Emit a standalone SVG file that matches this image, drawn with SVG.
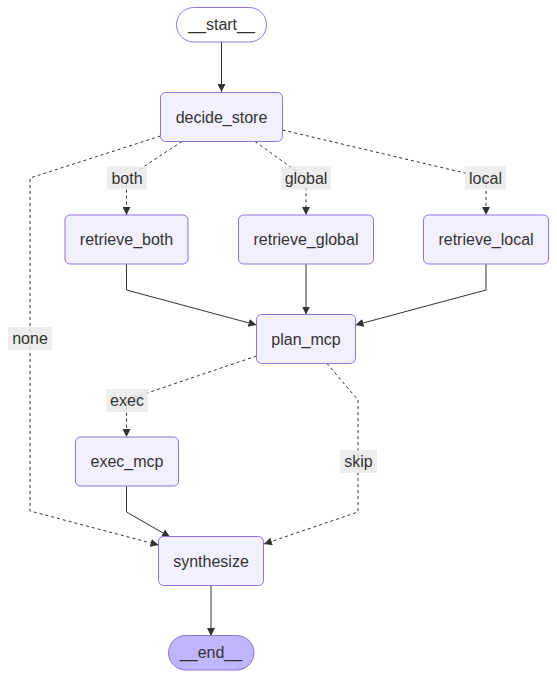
<svg xmlns="http://www.w3.org/2000/svg" width="557" height="678" viewBox="0 0 557 678">
<style>
.node rect{fill:#f2f0ff;stroke:#9370DB;stroke-width:1}
.node.first rect{fill:#ffffff}
.node.last rect{fill:#bfb6fc}
text{font-family:"Liberation Sans",Arial,sans-serif;font-size:16px;fill:#333;text-anchor:middle;dominant-baseline:central}
.e{fill:none;stroke:#333;stroke-width:1}
.d{stroke-dasharray:3 3}
.lbl rect{fill:#e8e8e8;fill-opacity:0.8;stroke:none}
</style>
<defs>
<marker id="ah" viewBox="0 0 10 10" refX="10" refY="5" markerWidth="8" markerHeight="8" markerUnits="userSpaceOnUse" orient="auto">
<path d="M0,0 L10,5 L0,10 z" fill="#333"/>
</marker>
</defs>
<g id="edges">
<path class="e" d="M221.5,42 L221.5,92" marker-end="url(#ah)"/>
<path class="e d" d="M182,141.5 L126.5,178 L126.5,215" marker-end="url(#ah)"/>
<path class="e d" d="M255,141.5 L306,178 L306,215" marker-end="url(#ah)"/>
<path class="e d" d="M282.5,130 L486,178 L486,215" marker-end="url(#ah)"/>
<path class="e d" d="M160.5,136 L30,178 L30,511 L158.5,545" marker-end="url(#ah)"/>
<path class="e" d="M126.5,264 L126.5,290 L256.5,325" marker-end="url(#ah)"/>
<path class="e" d="M306,264 L306,314.5" marker-end="url(#ah)"/>
<path class="e" d="M486,264 L486,290 L355.5,325" marker-end="url(#ah)"/>
<path class="e d" d="M256.5,356 L126.5,400 L126.5,437" marker-end="url(#ah)"/>
<path class="e d" d="M327,363.5 L358,400 L358,512 L264,544" marker-end="url(#ah)"/>
<path class="e" d="M126.5,486 L126.5,512 L170,537" marker-end="url(#ah)"/>
<path class="e" d="M211,586 L211,636" marker-end="url(#ah)"/>
</g>
<g id="edge-labels">
<g class="lbl"><rect x="107" y="166.5" width="40" height="23"/><text x="127" y="178">both</text></g>
<g class="lbl"><rect x="281" y="166.5" width="50" height="23"/><text x="306" y="178">global</text></g>
<g class="lbl"><rect x="465" y="166.5" width="41" height="23"/><text x="485.5" y="178">local</text></g>
<g class="lbl"><rect x="8" y="327" width="44" height="23"/><text x="30" y="338.5">none</text></g>
<g class="lbl"><rect x="106" y="389" width="42" height="23"/><text x="127" y="400.5">exec</text></g>
<g class="lbl"><rect x="340" y="450" width="37" height="23"/><text x="358.5" y="461.5">skip</text></g>
</g>
<g id="start" class="node first"><rect x="176.5" y="7.5" width="90" height="34.5" rx="17.25"/><text x="221.5" y="24.5">__start__</text></g>
<g id="decide_store" class="node"><rect x="160.5" y="92.5" width="122" height="49" rx="5"/><text x="221.5" y="117">decide_store</text></g>
<g id="retrieve_both" class="node"><rect x="65" y="215" width="123" height="49" rx="5"/><text x="126.5" y="239.5">retrieve_both</text></g>
<g id="retrieve_global" class="node"><rect x="238.5" y="215" width="135" height="49" rx="5"/><text x="306" y="239.5">retrieve_global</text></g>
<g id="retrieve_local" class="node"><rect x="423.5" y="215" width="125" height="49" rx="5"/><text x="486" y="239.5">retrieve_local</text></g>
<g id="plan_mcp" class="node"><rect x="256.5" y="314.5" width="99" height="49" rx="5"/><text x="306" y="339">plan_mcp</text></g>
<g id="exec_mcp" class="node"><rect x="75.5" y="437" width="103" height="49" rx="5"/><text x="127" y="461.5">exec_mcp</text></g>
<g id="synthesize" class="node"><rect x="158.5" y="536.5" width="105" height="49" rx="5"/><text x="211" y="561">synthesize</text></g>
<g id="end" class="node last"><rect x="168.5" y="635.5" width="85.5" height="34.5" rx="17.25"/><text x="211" y="652.5">__end__</text></g>
</svg>
